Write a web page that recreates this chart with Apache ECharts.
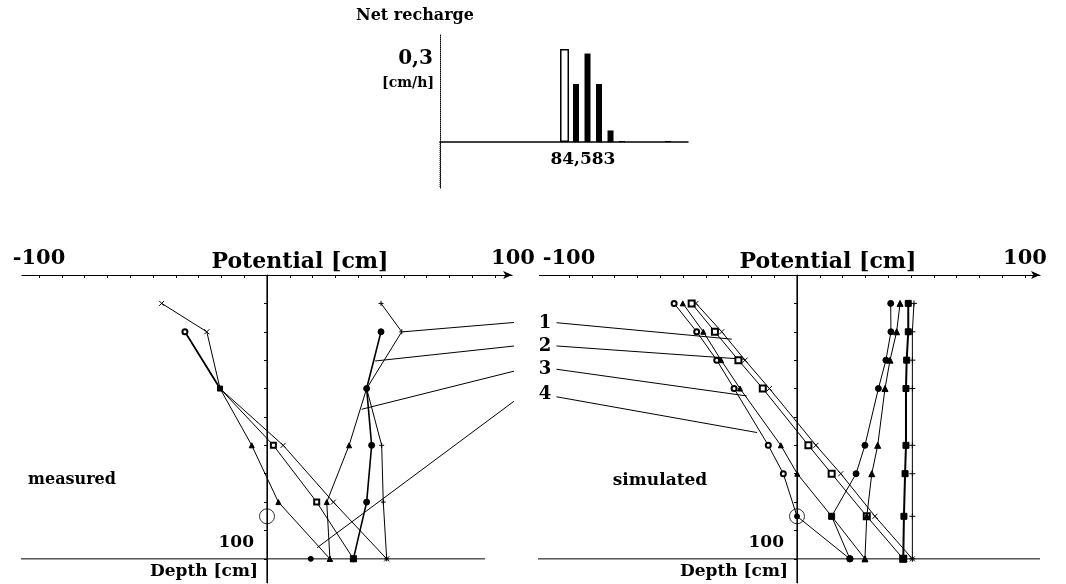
<!DOCTYPE html>
<html>
<head>
<meta charset="utf-8">
<script src="https://cdn.jsdelivr.net/npm/echarts@6/dist/echarts.min.js"></script>
<style>
  html, body { margin: 0; padding: 0; background: #fff; }
  #chart { width: 1066px; height: 584px; }
</style>
</head>
<body>
<div id="chart"></div>
<script>
// ---- Net recharge pulse [cm/h] ----
const rechargeHour = [11, 12, 13, 14, 15, 16, 20];
const rechargeRate = [0.336, 0.210, 0.320, 0.210, 0.042, 0.004, 0.004];
const rechargeTickAt = 12.6;
const rechargeTickLabel = '84,583';
const rechargeRateTick = 0.3;
const rechargeRateLabel = '0,3';

// ---- Depth levels [cm] ----
const measuredDepth = [10, 20, 40, 60, 80, 100];
const simulatedDepth = [10, 20, 30, 40, 60, 70, 85, 100];

// ---- Measured potential [cm]; null = no reading, '-' = break in the line ----
const mCrossA    = [-46.2, -26.4, -20.6, 7.1, 29.1, 52.5];
const mCircleA   = [null, -36.0, -20.6, '-', '-', 19.2];
const mTriangleA = [null, -36.0, -20.6, -6.7, 5.0, 27.6];
const mSquareA   = [null, -36.0, -20.6, 2.8, 21.8, 37.9];
const mCrossB    = [50.0, 59.1, 43.7, 50.3, 51.0, 52.5];
const mCircleB   = [null, 50.0, 43.7, 45.9, 43.7, 37.9];
const mTriangleB = [null, null, 43.7, 36.0, 26.2, 27.6];

// ---- Simulated potential [cm] ----
const sCircleA   = [-53.9, -44.0, -35.2, -27.6, -12.6, -6.0, 0.0, 23.2];
const sTriangleA = [-50.1, -41.1, -33.3, -25.0, -7.1, 0.1, 15.2, 29.8];
const sSquareA   = [-46.2, -36.0, -25.7, -15.0, 5.0, 15.2, 30.6, 46.6];
const sCrossA    = [-44.3, -33.0, -22.8, -12.1, 8.3, 19.2, 34.2, 50.6];
const sCircleB   = [41.1, 41.2, 39.0, 35.7, 29.8, 25.9, 15.2, 23.2];
const sTriangleB = [45.2, 43.7, 40.8, 38.6, 35.4, 32.8, 30.6, 29.8];
const sSquareB   = [48.8, 48.8, 48.1, 47.8, 47.8, 47.4, 46.9, 46.6];
const sCrossB    = [51.3, 50.6, 50.6, 50.6, 50.6, 50.6, 50.6, 50.6];

// Groundwater level marker [potential, depth]
const waterTable = [0, 85];

// Axis ticks
const potentialTicks = [-100, -90, -80, -70, -60, -50, -40, -30, -20, -10, 0,
                        10, 20, 30, 40, 50, 60, 70, 80, 90, 100];
const potentialLabels = [-100, 100];
const depthTicks = [10, 20, 30, 40, 50, 60, 70, 80, 90, 100];
const depthLabels = [100];
const depthAxisEnd = 108.5;

// Profile numbers with their leader lines: [label end, target] as [potential, depth]
const leaderNames = ['1', '2', '3', '4'];
const leadersMeasured = [
  [[113.2, 16.4], [59.8, 20.0]],
  [[113.2, 24.6], [47.4, 30.3]],
  [[113.2, 32.9], [41.5, 47.3]],
  [[112.3, 42.1], [21.9, 96.1]]
];
const leadersSimulated = [
  [[-105.5, 16.8], [-28.6, 22.6]],
  [[-105.5, 25.0], [-22.8, 29.7]],
  [[-105.5, 33.2], [-22.1, 42.6]],
  [[-105.5, 42.9], [-17.5, 55.5]]
];
// Depth base lines [from, to] potential at 100 cm
const baseMeasured = [-117, 95.6];
const baseSimulated = [-118.4, 106.6];

// Panel geometry (potential range and pixel scale)
const PX_PER_CM = 2.28;
const measuredRange = [-107.5, 107.5];
const simulatedRange = [-113, 106.6];
const measuredZeroX = 267;
const simulatedZeroX = 797;

const SERIF = '"DejaVu Serif", "Liberation Serif", serif';
const INK = '#000';
const CROSS = 'path://M0,0L10,10M10,0L0,10';
const PLUS = 'path://M0,5L10,5M5,0L5,10';

// Build [potential, depth] points; marks[i] overrides the symbol of point i
function points(pot, depth, marks) {
  const out = [];
  depth.forEach((d, i) => {
    if (pot[i] === null) return;
    const m = marks && marks[i];
    out.push(m ? { value: [pot[i], d], symbol: m } : [pot[i], d]);
  });
  return out;
}

function profile(axis, pot, depth, symbol, size, extra, marks) {
  return Object.assign({
    type: 'line',
    xAxisIndex: axis, yAxisIndex: axis - 1,
    data: points(pot, depth, marks),
    symbol: symbol, symbolSize: size,
    showAllSymbol: true, connectNulls: false,
    animation: false, silent: true,
    lineStyle: { color: INK, width: 1 },
    itemStyle: { color: INK, borderColor: INK, borderWidth: 1 },
    z: 3
  }, extra || {});
}

function plainLine(axis, yIndex, data, width, type) {
  return {
    type: 'line', xAxisIndex: axis, yAxisIndex: yIndex, data: data,
    symbol: 'none', clip: false, animation: false, silent: true,
    lineStyle: { color: INK, width: width || 1, type: type || 'solid' }, z: 2
  };
}

function panelX(grid, range, rightShift) {
  return {
    gridIndex: grid, type: 'value', position: 'top',
    min: range[0], max: range[1],
    axisLine: { onZero: false, symbol: ['none', 'arrow'], symbolSize: [6, 9],
                lineStyle: { color: INK, width: 1 } },
    axisTick: { customValues: potentialTicks, inside: true, length: 3,
                lineStyle: { color: INK, width: 1 } },
    axisLabel: { customValues: potentialLabels,
                 formatter: v => (v > 0 ? '{r|' + v + '}' : String(v)),
                 rich: { r: { padding: [0, 0, 0, rightShift * 2], fontFamily: SERIF,
                              fontWeight: 'bold', fontSize: 21, color: INK } },
                 margin: 6, color: INK, fontFamily: SERIF, fontWeight: 'bold', fontSize: 21 },
    splitLine: { show: false }
  };
}

function panelY(grid, range) {
  return {
    gridIndex: grid, type: 'value', inverse: true, min: 0, max: depthAxisEnd,
    offset: range[0] * PX_PER_CM,
    axisLine: { onZero: false, lineStyle: { color: INK, width: 1 } },
    axisTick: { customValues: depthTicks, length: 3, lineStyle: { color: INK } },
    axisLabel: { customValues: depthLabels, formatter: v => String(v),
                 margin: 13, verticalAlign: 'bottom', padding: [0, 0, 8, 0],
                 color: INK, fontFamily: SERIF, fontWeight: 'bold', fontSize: 17 },
    splitLine: { show: false }
  };
}

function text(str, x, y, size, align) {
  return {
    type: 'text', x: x, y: y, silent: true,
    style: { text: str, fill: INK, font: 'bold ' + size + 'px ' + SERIF,
             align: align || 'center', verticalAlign: 'middle',
             textAlign: align || 'center', textVerticalAlign: 'middle' }
  };
}

const insetYMin = -0.166, insetYMax = 0.387, insetTop = 35, insetHeight = 153;
const insetXMin = 0.17, insetXMax = 21.74;
const insetZeroOffset = -insetHeight * (-insetYMin) / (insetYMax - insetYMin);

const series = [
  // recharge bars
  { type: 'bar', xAxisIndex: 0, yAxisIndex: 0, barWidth: 6, animation: false, silent: true,
    data: rechargeHour.slice(1).map((h, i) => [h, rechargeRate[i + 1]]),
    itemStyle: { color: INK } },
  { type: 'bar', xAxisIndex: 1, yAxisIndex: 0, barWidth: 9, animation: false, silent: true,
    data: [[rechargeHour[0], rechargeRate[0]]],
    itemStyle: { color: '#fff', borderColor: INK, borderWidth: 1.5 } },

  // measured
  plainLine(2, 1, [[0, 0], [0, depthAxisEnd]], 1.2),
  plainLine(2, 1, [[baseMeasured[0], 100], [baseMeasured[1], 100]], 1),
  profile(2, mTriangleA, measuredDepth, 'triangle', 5, null, [null, 'none', 'none']),
  profile(2, mSquareA, measuredDepth, 'emptyRect', 5, null, [null, 'none', 'none']),
  profile(2, mCrossA, measuredDepth, CROSS, 5),
  profile(2, mCircleA, measuredDepth, 'circle', 5,
          { lineStyle: { color: INK, width: 1.7 } }, [null, 'emptyCircle', 'rect']),
  profile(2, mCrossB, measuredDepth, PLUS, 5),
  profile(2, mTriangleB, measuredDepth, 'triangle', 5, null, [null, null, 'none']),
  profile(2, mCircleB, measuredDepth, 'circle', 6, { lineStyle: { color: INK, width: 1.6 } }),
  { type: 'scatter', xAxisIndex: 2, yAxisIndex: 1, data: [waterTable], symbol: 'circle',
    symbolSize: 15, animation: false, silent: true,
    itemStyle: { color: 'rgba(0,0,0,0)', borderColor: INK, borderWidth: 1 }, z: 4 },

  // simulated
  plainLine(3, 2, [[0, 0], [0, depthAxisEnd]], 1.2),
  plainLine(3, 2, [[baseSimulated[0], 100], [baseSimulated[1], 100]], 1),
  profile(3, sCircleA, simulatedDepth, 'emptyCircle', 5, null,
          [null, null, null, null, null, null, 'circle']),
  profile(3, sTriangleA, simulatedDepth, 'triangle', 5),
  profile(3, sSquareA, simulatedDepth, 'emptyRect', 6),
  profile(3, sCrossA, simulatedDepth, CROSS, 5),
  profile(3, sCircleB, simulatedDepth, 'circle', 6, null,
          [null, null, null, null, null, null, 'rect']),
  profile(3, sTriangleB, simulatedDepth, 'triangle', 6),
  profile(3, sSquareB, simulatedDepth, 'rect', 6, { lineStyle: { color: INK, width: 2 } }),
  profile(3, sCrossB, simulatedDepth, PLUS, 6),
  { type: 'scatter', xAxisIndex: 3, yAxisIndex: 2, data: [waterTable], symbol: 'circle',
    symbolSize: 15, animation: false, silent: true,
    itemStyle: { color: 'rgba(0,0,0,0)', borderColor: INK, borderWidth: 1 }, z: 4 },

  // downward continuation of the recharge axis
  plainLine(0, 0, [[insetXMin, 0], [insetXMin, insetYMin]], 1, 'dotted')
];

leadersMeasured.forEach(l => series.push(plainLine(2, 1, l, 1)));
leadersSimulated.forEach(l => series.push(plainLine(3, 2, l, 1)));

const option = {
  backgroundColor: '#fff',
  animation: false,
  grid: [
    { left: 440, top: insetTop, width: 248, height: insetHeight,
      outerBoundsMode: 'none', containLabel: false },
    { left: measuredZeroX + measuredRange[0] * PX_PER_CM, top: 275,
      width: (measuredRange[1] - measuredRange[0]) * PX_PER_CM, height: 308,
      outerBoundsMode: 'none', containLabel: false },
    { left: simulatedZeroX + simulatedRange[0] * PX_PER_CM, top: 275,
      width: (simulatedRange[1] - simulatedRange[0]) * PX_PER_CM, height: 308,
      outerBoundsMode: 'none', containLabel: false }
  ],
  xAxis: [
    { gridIndex: 0, type: 'value', min: insetXMin, max: insetXMax,
      offset: insetZeroOffset,
      axisLine: { onZero: false, lineStyle: { color: INK, width: 1.5 } },
      axisTick: { show: false },
      axisLabel: { customValues: [rechargeTickAt],
                   formatter: v => (v === rechargeTickAt ? rechargeTickLabel : ''),
                   margin: 9, color: INK, fontFamily: SERIF, fontWeight: 'bold', fontSize: 17 },
      splitLine: { show: false } },
    { gridIndex: 0, type: 'value', min: insetXMin, max: insetXMax, show: false },
    panelX(1, measuredRange, 18),
    panelX(2, simulatedRange, 0)
  ],
  yAxis: [
    { gridIndex: 0, type: 'value', min: insetYMin, max: insetYMax,
      axisLine: { show: true, onZero: false, lineStyle: { color: INK, width: 1, type: 'dotted' } },
      axisTick: { show: false },
      axisLabel: { customValues: [rechargeRateTick],
                   formatter: v => (v === rechargeRateTick ? rechargeRateLabel : ''),
                   margin: 7, color: INK, fontFamily: SERIF, fontWeight: 'bold', fontSize: 20 },
      splitLine: { show: false } },
    panelY(1, measuredRange),
    panelY(2, simulatedRange)
  ],
  series: series,
  graphic: [
    text('Net recharge', 415, 16, 16),
    text('[cm/h]', 434, 83, 14, 'right'),
    text('Potential [cm]', 300, 262, 22),
    text('Potential [cm]', 828, 262, 22),
    text('measured', 72, 480, 16),
    text('simulated', 660, 481, 17),
    text('Depth [cm]', 258, 572, 17, 'right'),
    text('Depth [cm]', 788, 572, 17, 'right')
  ].concat(leaderNames.map((n, i) => text(n, 545, [323, 346.5, 369.5, 394][i], 18)))
};

const chart = echarts.init(document.getElementById('chart'), null, { renderer: 'canvas' });
chart.setOption(option);
</script>
</body>
</html>
